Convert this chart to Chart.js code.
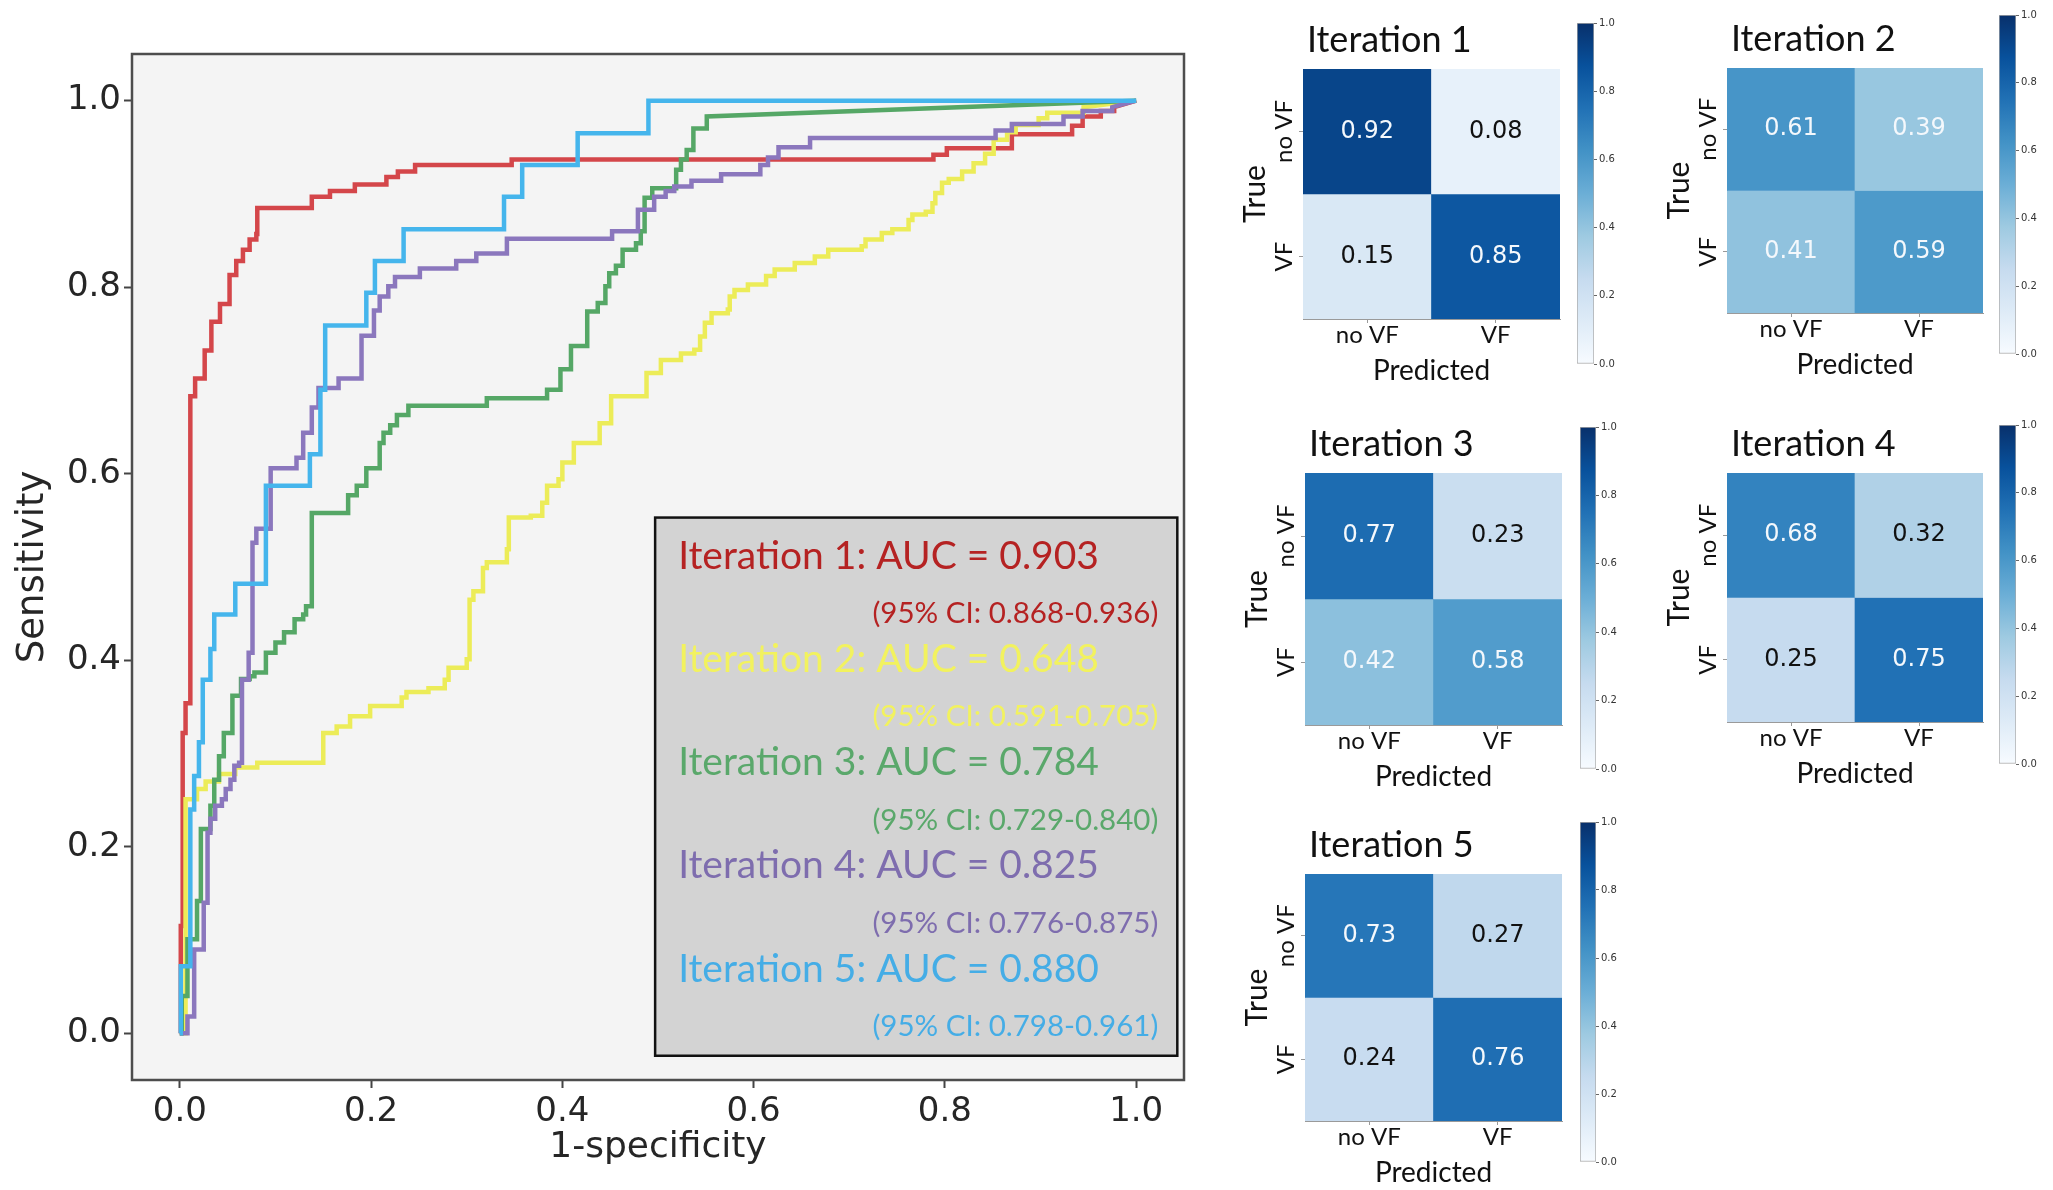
<!DOCTYPE html>
<html>
<head>
<meta charset="utf-8">
<title>ROC curves and confusion matrices</title>
<script src="https://cdn.jsdelivr.net/npm/chart.js@4.4.1/dist/chart.umd.min.js"></script>
<style>
  html, body { margin: 0; padding: 0; background: #fff; overflow: hidden; }
  body { width: 2053px; height: 1190px; position: relative; }
  canvas { position: absolute; }
</style>
</head>
<body>
<canvas id="roc" width="1230" height="1190" style="left:0;top:0"></canvas>
<script>
// ---- data ----
const iterNames = ['Iteration 1', 'Iteration 2', 'Iteration 3', 'Iteration 4', 'Iteration 5'];
const aucValues = ['0.903', '0.648', '0.784', '0.825', '0.880'];
const ciValues = ['0.868-0.936', '0.591-0.705', '0.729-0.840', '0.776-0.875', '0.798-0.961'];

// ROC curves: x of each vertical riser and the sensitivity reached there
const fpr1 = [0, 0.001, 0.003, 0.006, 0.011, 0.016, 0.026, 0.033, 0.042, 0.052, 0.059, 0.066, 0.073, 0.080, 0.081, 0.138, 0.157, 0.183, 0.216, 0.228, 0.246, 0.347, 0.788, 0.802, 0.870, 0.933, 0.944, 0.963, 0.977, 1.0];
const tpr1 = [0, 0.115, 0.322, 0.354, 0.683, 0.702, 0.732, 0.763, 0.782, 0.813, 0.828, 0.840, 0.851, 0.857, 0.885, 0.897, 0.903, 0.910, 0.918, 0.924, 0.931, 0.937, 0.942, 0.949, 0.964, 0.973, 0.983, 0.989, 0.993, 1.0];

const fpr2 = [0, 0.006, 0.018, 0.027, 0.041, 0.058, 0.081, 0.150, 0.164, 0.178, 0.199, 0.232, 0.237, 0.260, 0.277, 0.281, 0.300, 0.303, 0.307, 0.317, 0.321, 0.342, 0.344, 0.367, 0.379, 0.384, 0.396, 0.400, 0.412, 0.439, 0.451, 0.488, 0.503, 0.524, 0.538, 0.544, 0.549, 0.556, 0.573, 0.575, 0.580, 0.594, 0.613, 0.622, 0.643, 0.664, 0.678, 0.713, 0.717, 0.734, 0.745, 0.762, 0.766, 0.780, 0.787, 0.790, 0.797, 0.804, 0.818, 0.830, 0.842, 0.851, 0.865, 0.874, 0.898, 0.907, 0.945, 1.0];
const tpr2 = [0, 0.251, 0.262, 0.270, 0.278, 0.285, 0.290, 0.322, 0.329, 0.340, 0.351, 0.360, 0.366, 0.370, 0.379, 0.392, 0.401, 0.465, 0.474, 0.499, 0.505, 0.519, 0.553, 0.555, 0.569, 0.587, 0.594, 0.612, 0.633, 0.654, 0.683, 0.708, 0.722, 0.729, 0.733, 0.747, 0.762, 0.772, 0.776, 0.790, 0.797, 0.803, 0.812, 0.819, 0.826, 0.833, 0.840, 0.844, 0.851, 0.858, 0.862, 0.872, 0.878, 0.881, 0.890, 0.901, 0.912, 0.916, 0.924, 0.933, 0.943, 0.958, 0.966, 0.974, 0.981, 0.987, 0.993, 1.0];

const fpr3 = [0, 0.002, 0.008, 0.018, 0.022, 0.032, 0.036, 0.041, 0.046, 0.055, 0.064, 0.073, 0.078, 0.090, 0.100, 0.109, 0.120, 0.129, 0.132, 0.138, 0.176, 0.185, 0.195, 0.209, 0.213, 0.220, 0.227, 0.239, 0.321, 0.384, 0.398, 0.409, 0.426, 0.437, 0.445, 0.449, 0.456, 0.463, 0.477, 0.482, 0.486, 0.494, 0.519, 0.524, 0.530, 0.537, 0.551, 1.0];
const tpr3 = [0, 0.040, 0.101, 0.142, 0.219, 0.244, 0.272, 0.297, 0.322, 0.362, 0.380, 0.383, 0.387, 0.408, 0.419, 0.430, 0.444, 0.449, 0.458, 0.558, 0.577, 0.587, 0.606, 0.633, 0.644, 0.652, 0.663, 0.673, 0.681, 0.690, 0.712, 0.737, 0.774, 0.783, 0.801, 0.815, 0.823, 0.840, 0.847, 0.860, 0.896, 0.906, 0.926, 0.937, 0.947, 0.970, 0.983, 1.0];

const fpr4 = [0, 0.008, 0.015, 0.025, 0.029, 0.032, 0.037, 0.044, 0.048, 0.053, 0.057, 0.062, 0.065, 0.072, 0.076, 0.080, 0.095, 0.122, 0.129, 0.138, 0.145, 0.166, 0.190, 0.203, 0.209, 0.218, 0.225, 0.251, 0.289, 0.310, 0.342, 0.452, 0.479, 0.496, 0.508, 0.517, 0.535, 0.566, 0.607, 0.615, 0.626, 0.659, 0.853, 0.870, 0.924, 0.944, 0.975, 1.0];
const tpr4 = [0, 0.018, 0.090, 0.140, 0.215, 0.230, 0.244, 0.251, 0.262, 0.272, 0.287, 0.290, 0.379, 0.408, 0.526, 0.541, 0.606, 0.617, 0.644, 0.671, 0.692, 0.702, 0.748, 0.775, 0.790, 0.801, 0.811, 0.820, 0.828, 0.836, 0.852, 0.860, 0.883, 0.897, 0.903, 0.908, 0.914, 0.921, 0.931, 0.939, 0.950, 0.960, 0.968, 0.975, 0.983, 0.989, 0.993, 1.0];

const fpr5 = [0, 0.001, 0.011, 0.015, 0.020, 0.024, 0.032, 0.036, 0.058, 0.090, 0.136, 0.147, 0.152, 0.195, 0.204, 0.234, 0.339, 0.358, 0.416, 0.490, 1.0];
const tpr5 = [0, 0.072, 0.240, 0.276, 0.312, 0.379, 0.412, 0.449, 0.482, 0.587, 0.621, 0.690, 0.759, 0.794, 0.828, 0.862, 0.897, 0.931, 0.965, 1.0, 1.0];

const rocTicks = [0, 0.2, 0.4, 0.6, 0.8, 1.0];

// confusion matrices (rows = true, cols = predicted)
const predLabels = ['no VF', 'VF'];
const trueLabels = ['no VF', 'VF'];
const cm1 = [[0.92, 0.08], [0.15, 0.85]];
const cm2 = [[0.61, 0.39], [0.41, 0.59]];
const cm3 = [[0.77, 0.23], [0.42, 0.58]];
const cm4 = [[0.68, 0.32], [0.25, 0.75]];
const cm5 = [[0.73, 0.27], [0.24, 0.76]];
const cbarTicks = [0, 0.2, 0.4, 0.6, 0.8, 1.0];

// ---- styles ----
const lineColors = ['#d4464a', '#ecec58', '#55a766', '#8b77bd', '#45b5ec'];
const textColors = ['#b52222', '#f2f25e', '#5aa86b', '#7e6dae', '#45ade6'];
const bluesStops = [[247,251,255],[222,235,247],[198,219,239],[158,202,225],[107,174,214],[66,146,198],[33,113,181],[8,81,156],[8,48,107]];

function blues(v) {
    const t = Math.max(0, Math.min(1, v)) * 8;
    const i = Math.min(7, Math.floor(t));
    const f = t - i;
    const a = bluesStops[i], b = bluesStops[i + 1];
    return 'rgb(' + a.map((c, j) => Math.round(c + (b[j] - c) * f)).join(',') + ')';
}

// staircase through the risers; the last segment to (1,1) stays straight
function stepPath(fpr, tpr) {
    const pts = [{x: fpr[0], y: tpr[0]}];
    for (let i = 1; i < fpr.length; i++) {
        if (i < fpr.length - 1) pts.push({x: fpr[i], y: tpr[i - 1]});
        pts.push({x: fpr[i], y: tpr[i]});
    }
    return pts;
}

// ---- ROC chart ----
const rocFrame = {
    id: 'rocFrame',
    beforeDraw(chart) {
        const {ctx, chartArea: a} = chart;
        ctx.save();
        ctx.fillStyle = '#f4f4f4';
        ctx.fillRect(a.left, a.top, a.width, a.height);
        ctx.restore();
    },
    afterDraw(chart) {
        const {ctx, chartArea: a, scales: {x, y}} = chart;
        ctx.save();
        ctx.strokeStyle = '#4d4d4d';
        ctx.lineWidth = 2.5;
        ctx.strokeRect(a.left, a.top, a.width, a.height);

        // AUC text box
        const L = x.getPixelForValue(0.497), R = x.getPixelForValue(1.043);
        const T = y.getPixelForValue(0.553), B = y.getPixelForValue(-0.024);
        ctx.fillStyle = '#d3d3d3';
        ctx.fillRect(L, T, R - L, B - T);
        ctx.strokeStyle = '#111';
        ctx.lineWidth = 2.5;
        ctx.strokeRect(L, T, R - L, B - T);
        iterNames.forEach((name, i) => {
            const base = T + 51 + i * 103.3;
            ctx.fillStyle = textColors[i];
            ctx.textBaseline = 'alphabetic';
            ctx.font = '39px Lato';
            ctx.textAlign = 'left';
            ctx.fillText(name + ': AUC = ' + aucValues[i], L + 23, base);
            ctx.font = '29.5px Lato';
            ctx.textAlign = 'right';
            ctx.fillText('(95% CI: ' + ciValues[i] + ')', R - 19, base + 54.4);
        });
        ctx.restore();
    }
};

const rocSeries = [[fpr1, tpr1], [fpr2, tpr2], [fpr3, tpr3], [fpr4, tpr4], [fpr5, tpr5]];

new Chart(document.getElementById('roc'), {
    type: 'scatter',
    data: {
        datasets: rocSeries.map((s, i) => ({
            label: iterNames[i],
            data: stepPath(s[0], s[1]),
            showLine: true,
            borderColor: lineColors[i],
            borderWidth: 4.5,
            pointRadius: 0,
            tension: 0,
            fill: false,
            order: 5 - i
        }))
    },
    options: {
        responsive: false,
        animation: false,
        layout: { padding: { top: 54, right: 46, left: 0, bottom: 0 } },
        plugins: { legend: { display: false }, tooltip: { enabled: false } },
        scales: {
            x: {
                type: 'linear', min: -0.05, max: 1.05,
                afterBuildTicks: s => { s.ticks = rocTicks.map(v => ({ value: v })); },
                afterFit: s => { s.height = 110; },
                ticks: { callback: v => v.toFixed(1), font: { family: 'DejaVu Sans', size: 34 }, color: '#262626', padding: 4, maxRotation: 0 },
                grid: { drawOnChartArea: false, tickLength: 8, tickWidth: 2, color: '#444' },
                border: { display: false },
                title: { display: true, text: '1-specificity', font: { family: 'DejaVu Sans', size: 36 }, color: '#262626', padding: { top: 0, bottom: 21 } }
            },
            y: {
                type: 'linear', min: -0.05, max: 1.05,
                afterBuildTicks: s => { s.ticks = rocTicks.map(v => ({ value: v })); },
                afterFit: s => { s.width = 132; },
                ticks: { callback: v => v.toFixed(1), font: { family: 'DejaVu Sans', size: 34 }, color: '#262626', padding: 3 },
                grid: { drawOnChartArea: false, tickLength: 8, tickWidth: 2, color: '#444' },
                border: { display: false },
                title: { display: true, text: 'Sensitivity', font: { family: 'DejaVu Sans', size: 37 }, color: '#262626', padding: { top: 11, bottom: 0 } }
            }
        }
    },
    plugins: [rocFrame]
});

// ---- confusion matrices ----
const cellText = {
    id: 'cellText',
    afterDatasetsDraw(chart) {
        const {ctx} = chart;
        ctx.save();
        ctx.font = '24px "DejaVu Sans"';
        ctx.textAlign = 'center';
        ctx.textBaseline = 'middle';
        chart.data.datasets.forEach((ds, r) => {
            chart.getDatasetMeta(r).data.forEach((bar, c) => {
                const v = ds.values[c];
                ctx.fillStyle = v > 0.35 ? '#f4f8fc' : '#111';
                ctx.fillText(v.toFixed(2), bar.x, (bar.y + bar.base) / 2);
            });
        });
        ctx.restore();
    }
};

const panelText = {
    id: 'panelText',
    afterDraw(chart, args, opts) {
        const {ctx, chartArea: a, scales: {y}} = chart;
        ctx.save();
        ctx.fillStyle = '#111';
        ctx.font = '36px Lato';
        ctx.textAlign = 'left';
        ctx.textBaseline = 'alphabetic';
        ctx.fillText(opts.title, a.left + 4, a.top - 17);
        ctx.font = '24px Lato';
        ctx.textAlign = 'center';
        trueLabels.forEach((t, r) => {
            ctx.save();
            ctx.translate(a.left - 11, y.getPixelForValue(trueLabels.length - r - 0.5));
            ctx.rotate(-Math.PI / 2);
            ctx.fillText(t, 0, 0);
            ctx.restore();
        });
        ctx.restore();
    }
};

function addCanvas(left, top, w, h) {
    const cv = document.createElement('canvas');
    cv.width = w;
    cv.height = h;
    cv.style.left = left + 'px';
    cv.style.top = top + 'px';
    document.body.appendChild(cv);
    return cv;
}

function makeHeatmap(k, cm, m) {
    const left = m.l - 82, top = m.t - 62;
    const w = m.r - left + 4, h = m.b + 72 - top;
    new Chart(addCanvas(left, top, w, h), {
        type: 'bar',
        data: {
            labels: predLabels,
            datasets: trueLabels.map((t, r) => ({
                label: t,
                data: cm[r].map(() => [trueLabels.length - 1 - r, trueLabels.length - r]),
                values: cm[r],
                backgroundColor: cm[r].map(blues),
                borderWidth: 0,
                grouped: false,
                barPercentage: 1,
                categoryPercentage: 1
            }))
        },
        options: {
            responsive: false,
            animation: false,
            layout: { padding: { top: 62, right: 4, left: 0, bottom: 0 } },
            plugins: { legend: { display: false }, tooltip: { enabled: false }, panelText: { title: iterNames[k] } },
            scales: {
                x: {
                    afterFit: s => { s.height = 72; },
                    ticks: { font: { family: 'Lato', size: 24 }, color: '#111', padding: -2, maxRotation: 0, autoSkip: false },
                    grid: { drawOnChartArea: false, offset: false, tickLength: 4, color: '#999' },
                    border: { display: true, color: '#9a9a9a', width: 1 },
                    title: { display: true, text: 'Predicted', font: { family: 'Lato', size: 28 }, color: '#111', padding: { top: 0, bottom: 3 } }
                },
                y: {
                    min: 0, max: 2,
                    afterBuildTicks: s => { s.ticks = [{ value: 0.5 }, { value: 1.5 }]; },
                    afterFit: s => { s.width = 82; },
                    ticks: { display: false },
                    grid: { drawOnChartArea: false, tickLength: 4, color: '#999' },
                    border: { display: true, color: '#9a9a9a', width: 1 },
                    title: { display: true, text: 'True', font: { family: 'Lato', size: 30 }, color: '#111', padding: { top: 16, bottom: 0 } }
                }
            }
        },
        plugins: [cellText, panelText]
    });
}

function makeColorbar(cb) {
    const w = cb.r - cb.l + 2 + 36, h = cb.b - cb.t + 16;
    new Chart(addCanvas(cb.l - 2, cb.t - 8, w, h), {
        type: 'bar',
        data: {
            labels: [''],
            datasets: [{
                data: [[0, 1]],
                backgroundColor: c => {
                    const a = c.chart.chartArea;
                    if (!a) return '#fff';
                    const g = c.chart.ctx.createLinearGradient(0, a.bottom, 0, a.top);
                    bluesStops.forEach((s, j) => g.addColorStop(j / 8, 'rgb(' + s.join(',') + ')'));
                    return g;
                },
                borderColor: '#a8a8a8',
                borderWidth: 1,
                borderSkipped: false,
                barPercentage: 1,
                categoryPercentage: 1
            }]
        },
        options: {
            responsive: false,
            animation: false,
            layout: { padding: { top: 8, bottom: 8, left: 2, right: 0 } },
            plugins: { legend: { display: false }, tooltip: { enabled: false } },
            scales: {
                x: { display: false },
                y: {
                    position: 'right', min: 0, max: 1,
                    afterBuildTicks: s => { s.ticks = cbarTicks.map(v => ({ value: v })); },
                    afterFit: s => { s.width = 36; },
                    ticks: { callback: v => v.toFixed(1), font: { family: 'DejaVu Sans', size: 10 }, color: '#333', padding: 2 },
                    grid: { drawOnChartArea: false, tickLength: 3, color: '#666' },
                    border: { display: false }
                }
            }
        }
    });
}

// panel placement (pixels on the page)
const matrixBoxes = [
    { l: 1303, t: 69, r: 1560, b: 319 },
    { l: 1727, t: 68, r: 1983, b: 313 },
    { l: 1305, t: 473, r: 1562, b: 725 },
    { l: 1727, t: 473, r: 1983, b: 722 },
    { l: 1305, t: 874, r: 1562, b: 1121 }
];
const colorbarBoxes = [
    { l: 1577, t: 23, r: 1594, b: 364 },
    { l: 1999, t: 15, r: 2016, b: 354 },
    { l: 1580, t: 427, r: 1596, b: 769 },
    { l: 1999, t: 425, r: 2016, b: 764 },
    { l: 1580, t: 822, r: 1596, b: 1162 }
];

[cm1, cm2, cm3, cm4, cm5].forEach((cm, k) => {
    makeHeatmap(k, cm, matrixBoxes[k]);
    makeColorbar(colorbarBoxes[k]);
});
</script>
</body>
</html>
